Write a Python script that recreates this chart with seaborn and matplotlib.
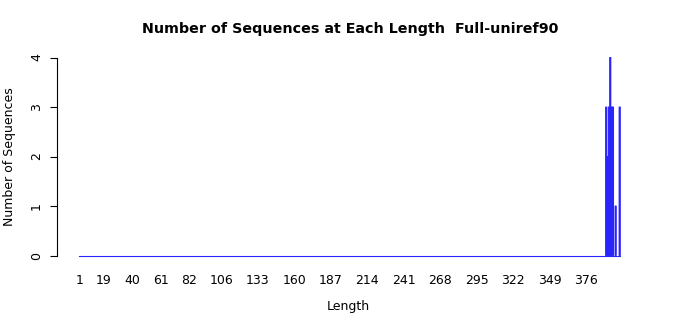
import numpy as np
import pandas as pd
import matplotlib
matplotlib.use("Agg")
import matplotlib.pyplot as plt
import seaborn as sns

# Data: sequence counts per length (lengths 1..401; all others zero)
lengths = list(range(1, 402))
nonzero_lengths = [391, 392, 393, 394, 395, 396, 398, 401]
nonzero_counts = [3, 2, 3, 4, 3, 3, 1, 3]
tick_lengths = [1, 19, 40, 61, 82, 106, 133, 160, 187, 214, 241, 268, 295, 322, 349, 376]
y_ticks = [0, 1, 2, 3, 4]

count_map = dict(zip(nonzero_lengths, nonzero_counts))
counts = [count_map.get(l, 0) for l in lengths]
df = pd.DataFrame({"Length": [str(l) for l in lengths], "Count": counts})

sns.set_style("white")
plt.rcParams["font.family"] = ["DejaVu Sans"]
plt.rcParams["text.color"] = "black"
plt.rcParams["axes.labelcolor"] = "black"
plt.rcParams["xtick.color"] = "black"
plt.rcParams["ytick.color"] = "black"

W, H = 700, 315
fig = plt.figure(figsize=(7, 3.15), dpi=100)
ax_left, ax_right, ax_top, ax_bottom = 57, 640, 57.5, 255.5
ax = fig.add_axes([ax_left / W, 1 - ax_bottom / H, (ax_right - ax_left) / W, (ax_bottom - ax_top) / H])

bar_w = 1 / 1.2
edge_col = "#2626FF"
sns.barplot(data=df, x="Length", y="Count", order=[str(l) for l in lengths],
            color="#6400D2", edgecolor=edge_col, linewidth=0.75, width=bar_w,
            saturation=1, ax=ax, errorbar=None)
for p in ax.patches:
    p.set_clip_on(False)
    p.set_snap(False)
    if p.get_height() == 0:
        p.set_linewidth(0)

px_per_unit = 540.2 / 400
x0 = (ax_left - 79.5) / px_per_unit
x1 = (ax_right - 79.5) / px_per_unit
ax.set_xlim(x0, x1)
ax.set_ylim(0, 4)

ax.set_xticks([lengths.index(t) for t in tick_lengths])
ax.set_xticklabels([str(t) for t in tick_lengths], fontsize=9)
ax.tick_params(axis="x", length=0, pad=13)
ax.set_yticks(y_ticks)
ax.set_yticklabels([str(t) for t in y_ticks], fontsize=9, rotation=90, va="center")
ax.tick_params(axis="y", length=5, width=0.8, pad=5, left=True, color="black")

for s in ["top", "right"]:
    ax.spines[s].set_visible(False)
# the run of zero-height bar borders forms a blue baseline
ax.spines["bottom"].set_bounds(-bar_w / 2, len(lengths) - 1 + bar_w / 2)
ax.spines["bottom"].set_color(edge_col)
ax.spines["bottom"].set_linewidth(0.8)
ax.spines["left"].set_linewidth(0.8)
ax.spines["left"].set_color("black")

ax.set_xlabel("Length", fontsize=9, labelpad=10)
ax.set_ylabel("Number of Sequences", fontsize=9, labelpad=10)
fig.text(0.5, 1 - 29 / H, "Number of Sequences at Each Length  Full-uniref90",
         ha="center", va="center", fontsize=10.25, fontweight="bold")

fig.savefig("out.png", dpi=100, facecolor="white")
